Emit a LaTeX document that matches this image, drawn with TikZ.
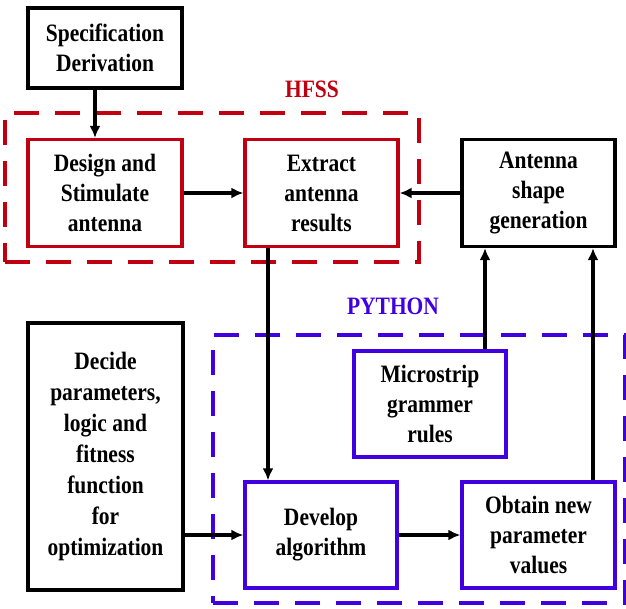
\documentclass[tikz,border=0pt]{standalone}
\usepackage{fontspec}
\setmainfont{Liberation Serif}[FakeStretch=0.86]
\usetikzlibrary{arrows.meta,calc}
\definecolor{hred}{RGB}{192,0,16}
\definecolor{pblue}{RGB}{64,0,224}
\begin{document}
\begin{tikzpicture}[x=1pt,y=-1pt,
  txt/.style={font=\fontsize{25}{30}\selectfont\bfseries},
  box/.style={draw, line width=3.2pt, align=center, inner sep=0pt, txt},
  blackbox/.style={box, draw=black},
  redbox/.style={box, draw=hred},
  bluebox/.style={box, draw=pblue},
  frame/.style={draw, line width=3.5pt, dash pattern=on 25pt off 16pt, inner sep=0pt},
  arr/.style={line width=3.2pt, -{Latex[length=12pt,width=11pt]}},
  lbl/.style={txt, inner sep=0pt}]
\useasboundingbox (0,0) rectangle (626,608);
% frames
\node[frame, draw=hred, minimum width=414pt, minimum height=149pt] (hfss) at (212,187.5) {};
\node[frame, draw=pblue, minimum width=412pt, minimum height=268pt] (py) at (419,469) {};
\node[lbl, text=hred] (hfsslbl) at (312,89) {HFSS};
\node[lbl, text=pblue] (pylbl) at (393,306) {PYTHON};
% boxes
\node[blackbox, minimum width=154pt, minimum height=80pt] (spec) at (105,48) {Specification\\Derivation};
\node[redbox, minimum width=154pt, minimum height=107pt] (design) at (105,193) {Design and\\Stimulate\\antenna};
\node[redbox, minimum width=153pt, minimum height=107pt] (extract) at (321.5,193) {Extract\\antenna\\results};
\node[blackbox, minimum width=153pt, minimum height=107pt] (antenna) at (538.5,193) {Antenna\\shape\\generation};
\node[bluebox, minimum width=152pt, minimum height=106pt] (micro) at (430,404) {Microstrip\\grammer\\rules};
\node[bluebox, minimum width=152pt, minimum height=106pt] (develop) at (321,535) {Develop\\algorithm};
\node[bluebox, minimum width=153pt, minimum height=106pt] (obtain) at (538.5,535) {Obtain new\\parameter\\values};
\node[blackbox, minimum width=155pt, minimum height=267pt, font=\fontsize{25}{31}\selectfont\bfseries] (decide) at (105.5,456.5) {Decide\\parameters,\\logic and\\fitness\\function\\for\\optimization};
% connectors
\draw[arr] ([xshift=-10pt]spec.south) -- ([xshift=-10pt]design.north);
\draw[arr] (design.east) -- (extract.west);
\draw[arr] (antenna.west) -- (extract.east);
\draw[arr] ([xshift=-53.5pt]extract.south) -- ([xshift=-53.5pt]extract.south |- develop.north);
\draw[arr] ([xshift=55pt]micro.north) -- ([xshift=55pt]micro.north |- antenna.south);
\draw[arr] ([xshift=54.5pt]obtain.north) -- ([xshift=54.5pt]obtain.north |- antenna.south);
\draw[arr] (decide.east |- develop.west) -- (develop.west);
\draw[arr] (develop.east) -- (obtain.west);
\end{tikzpicture}
\end{document}
